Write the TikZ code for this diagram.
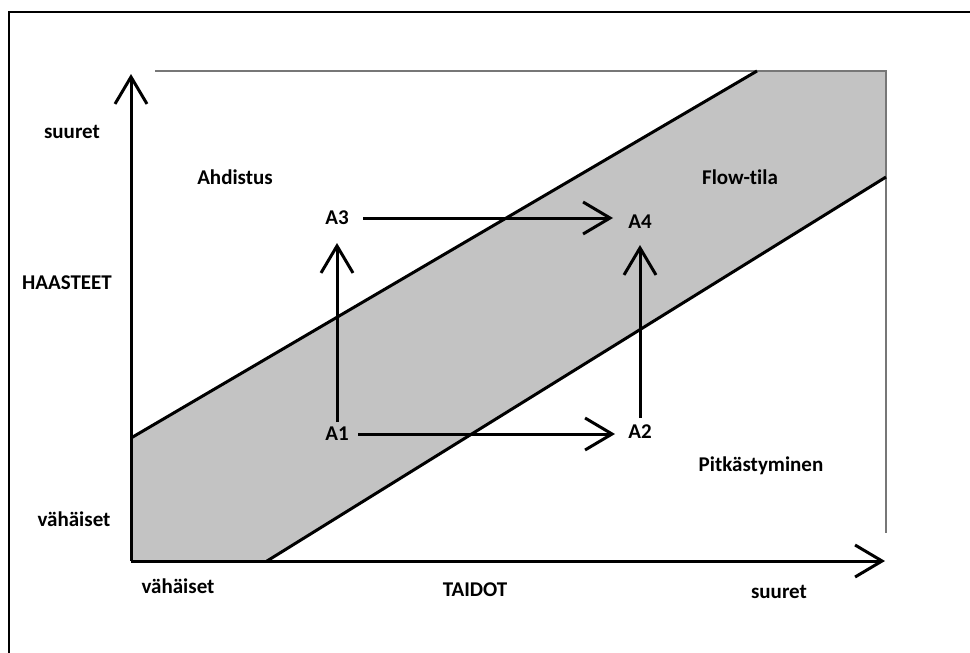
\documentclass[tikz,border=0pt]{standalone}
\usepackage{fontspec}
\setmainfont[Ligatures=CommonOff]{Carlito}
\usetikzlibrary{arrows.meta}
\definecolor{bandgray}{HTML}{C3C3C3}
\definecolor{thingray}{HTML}{777777}
\begin{document}
\begin{tikzpicture}[x=1pt,y=-1pt,
  lbl/.style={font=\fontsize{21}{24}\selectfont\bfseries, inner sep=0pt},
  arr/.style={line width=3pt, -{Straight Barb[length=27pt, width=32pt, line width=3pt]}},
  edge/.style={line width=3pt},
  thin/.style={line width=1.5pt, draw=thingray}]
\useasboundingbox (0,0) rectangle (970,653);
% outer frame (cut off at right and bottom)
\draw[line width=2.5pt] (9,660) -- (9,12) -- (980,12);
% band corners
\coordinate (U0) at (131,438);
\coordinate (U1) at (757,71);
\coordinate (TR) at (886,71);
\coordinate (L1) at (886,177);
\coordinate (L0) at (267,561);
\coordinate (O) at (131,561);
\coordinate (TL) at (155,71);
\coordinate (BR) at (886,533);
\coordinate (Ytop) at (131,74);
\coordinate (Xend) at (885,561);
\fill[bandgray] (U0) -- (U1) -- (TR) -- (L1) -- (L0) -- (O) -- cycle;
\draw[thin] (TL) -- (TR) -- (BR);
\draw[edge] (U0) -- (U1);
\draw[edge] (L0) -- (L1);
% axes
\draw[arr] (O) -- (Ytop);
\draw[arr] (O) -- (Xend);
% labels
\node[lbl] (ysuuret) at (72,132) {suuret};
\node[lbl] (haasteet) at (67,283) {HAASTEET};
\node[lbl] (yvah) at (74,519) {vähäiset};
\node[lbl] (xvah) at (178,586) {vähäiset};
\node[lbl] (taidot) at (475,590) {TAIDOT};
\node[lbl] (xsuuret) at (779,592) {suuret};
\node[lbl] (ahd) at (235,177) {Ahdistus};
\node[lbl] (flow) at (740,177) {Flow-tila};
\node[lbl] (pitk) at (761,466) {Pitkästyminen};
\node[lbl] (A1) at (337,434) {A1};
\node[lbl] (A2) at (640,432) {A2};
\node[lbl] (A3) at (337,218) {A3};
\node[lbl] (A4) at (640,222) {A4};
% transitions
\draw[arr, shorten <=21pt, shorten >=25pt] (A1.center) -- (A1.center -| A2.center);
\draw[arr, shorten <=26pt, shorten >=27pt] (A3.center) -- (A3.center -| A4.center);
\draw[arr, shorten <=12pt, shorten >=25pt] (A1.center) -- (A3.center);
\draw[arr, shorten <=14pt, shorten >=23pt] (A2.center) -- (A4.center);
\end{tikzpicture}
\end{document}
